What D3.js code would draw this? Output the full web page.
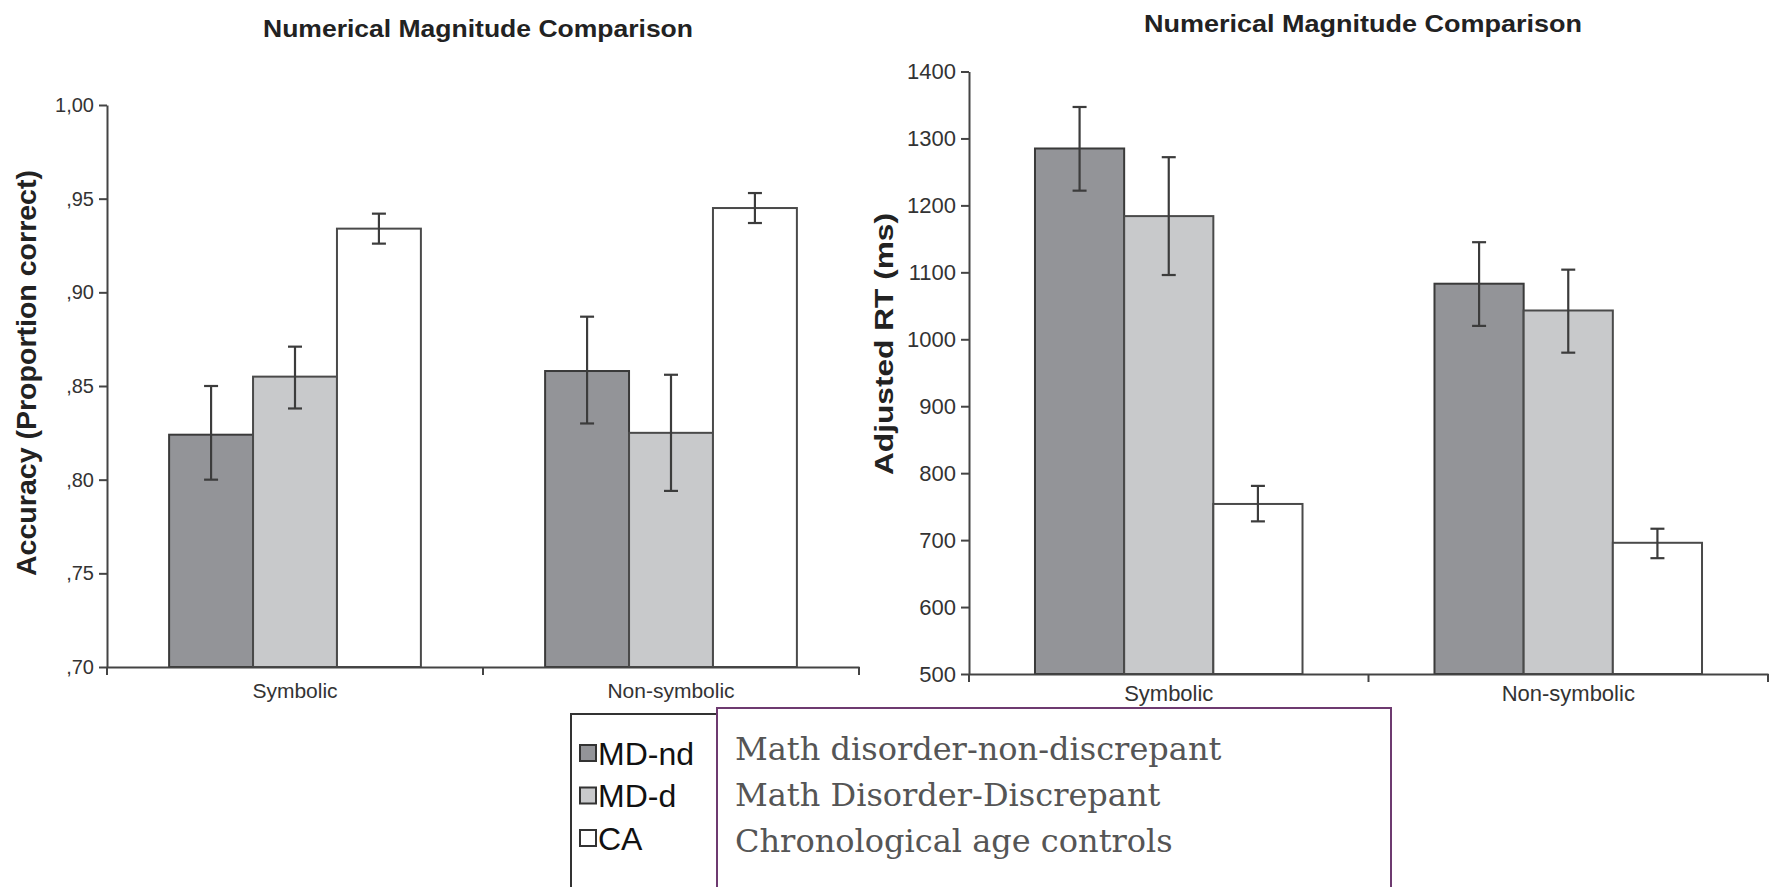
<!DOCTYPE html>
<html>
<head>
<meta charset="utf-8">
<script src="https://cdn.jsdelivr.net/npm/d3@7"></script>
<style>
  html, body { margin: 0; padding: 0; background: #fff; }
  svg { display: block; }
  text { font-family: "Liberation Sans", Arial, sans-serif; }
</style>
</head>
<body>
<svg id="chart" width="1776" height="887"></svg>
<script>
// ---------- data ----------
const categories = ["Symbolic", "Non-symbolic"];
const groups = ["MD-nd", "MD-d", "CA"];
const groupNames = ["Math disorder-non-discrepant", "Math Disorder-Discrepant", "Chronological age controls"];

// Accuracy (proportion correct): rows = categories, cols = groups
const accMean = [[0.824, 0.855, 0.934], [0.858, 0.825, 0.945]];
const accLow  = [[0.800, 0.838, 0.926], [0.830, 0.794, 0.937]];
const accHigh = [[0.850, 0.871, 0.942], [0.887, 0.856, 0.953]];
const accTicks = [0.70, 0.75, 0.80, 0.85, 0.90, 0.95, 1.00];

// Adjusted RT (ms)
const rtMean = [[1285, 1184, 754], [1083, 1043, 696]];
const rtLow  = [[1222, 1096, 728], [1020, 980, 673]];
const rtHigh = [[1347, 1272, 781], [1145, 1104, 717]];
const rtTicks = [500, 600, 700, 800, 900, 1000, 1100, 1200, 1300, 1400];

const titles = ["Numerical Magnitude Comparison", "Numerical Magnitude Comparison"];
const yLabels = ["Accuracy (Proportion correct)", "Adjusted RT (ms)"];

// ---------- styles ----------
const fills = { "MD-nd": "#939498", "MD-d": "#c8c9cb", "CA": "#ffffff" };

const svg = d3.select("#chart");
svg.append("rect").attr("width", 1776).attr("height", 887).attr("fill", "#fff");

function drawChart(cfg, means, lows, highs, ticks, fmt, title, ylab) {
  const g = svg.append("g");
  const y = d3.scaleLinear().domain([ticks[0], ticks[ticks.length - 1]]).range([cfg.yBot, cfg.yTop]);
  const xCat = d3.scaleBand().domain(categories).range([cfg.x0, cfg.x1]).padding(0);
  const xGrp = d3.scaleBand().domain(groups).range([0, xCat.bandwidth()]).paddingInner(0).paddingOuter(0.74);

  // bars
  categories.forEach((c, ci) => {
    groups.forEach((gr, gi) => {
      const v = means[ci][gi];
      g.append("rect")
        .attr("x", xCat(c) + xGrp(gr))
        .attr("y", y(v))
        .attr("width", xGrp.bandwidth())
        .attr("height", y(ticks[0]) - y(v))
        .attr("fill", fills[gr])
        .attr("stroke", gi === 0 ? "#3a3a3a" : "#4a4a4a")
        .attr("stroke-width", 2);
    });
  });

  // error bars
  categories.forEach((c, ci) => {
    groups.forEach((gr, gi) => {
      const cx = xCat(c) + xGrp(gr) + xGrp.bandwidth() / 2;
      const lo = y(lows[ci][gi]), hi = y(highs[ci][gi]);
      const col = "#3c3c3c";
      g.append("line").attr("x1", cx).attr("x2", cx).attr("y1", lo).attr("y2", hi)
        .attr("stroke", col).attr("stroke-width", 2.2);
      [lo, hi].forEach(yy => g.append("line").attr("x1", cx - 7).attr("x2", cx + 7)
        .attr("y1", yy).attr("y2", yy).attr("stroke", col).attr("stroke-width", 2.2));
    });
  });

  // y axis
  const ya = g.append("g").attr("transform", `translate(${cfg.x0},0)`)
    .call(d3.axisLeft(y).tickValues(ticks).tickFormat(fmt).tickSize(8).tickSizeOuter(0).tickPadding(5));
  ya.select(".domain").attr("stroke", "#444").attr("stroke-width", 2);
  ya.selectAll(".tick line").attr("stroke", "#444").attr("stroke-width", 2);
  ya.selectAll(".tick text").attr("fill", "#333").style("font-size", cfg.tickFont + "px");

  // x axis
  const xa = g.append("g").attr("transform", `translate(0,${cfg.yBot})`)
    .call(d3.axisBottom(xCat).tickSize(0).tickSizeOuter(0).tickPadding(cfg.catPad));
  xa.select(".domain").attr("stroke", "#444").attr("stroke-width", 2);
  xa.selectAll(".tick text").attr("fill", "#333").style("font-size", cfg.catFont + "px");
  const bounds = [cfg.x0].concat(categories.map(c => xCat(c) + xCat.bandwidth()));
  bounds.forEach(bx => g.append("line").attr("x1", bx).attr("x2", bx)
    .attr("y1", cfg.yBot).attr("y2", cfg.yBot + 8).attr("stroke", "#444").attr("stroke-width", 2));

  // title
  g.append("text").attr("x", cfg.titleX).attr("y", cfg.titleY).attr("text-anchor", "middle")
    .attr("fill", "#222").style("font-weight", "bold").style("font-size", cfg.titleFont + "px")
    .attr("textLength", cfg.titleLen).attr("lengthAdjust", "spacingAndGlyphs")
    .text(title);

  // y label
  g.append("text").attr("transform", `translate(${cfg.ylabX},${cfg.ylabY}) rotate(-90)`)
    .attr("text-anchor", "middle").attr("dy", "0.35em")
    .attr("fill", "#222").style("font-weight", "bold").style("font-size", cfg.ylabFont + "px")
    .attr("textLength", cfg.ylabLen).attr("lengthAdjust", "spacingAndGlyphs")
    .text(ylab);
}

const accFmt = v => d3.format(".2f")(v).replace(/^0\./, ",").replace(".", ",");
drawChart({ x0: 107, x1: 859, yTop: 105, yBot: 667, tickFont: 20, catFont: 21, catPad: 16,
            titleX: 478, titleY: 37, titleFont: 24, titleLen: 430,
            ylabX: 27, ylabY: 373, ylabFont: 27, ylabLen: 406 },
  accMean, accLow, accHigh, accTicks, accFmt, titles[0], yLabels[0]);

drawChart({ x0: 969, x1: 1768, yTop: 71.5, yBot: 674, tickFont: 22, catFont: 22, catPad: 11,
            titleX: 1363, titleY: 32, titleFont: 24, titleLen: 438,
            ylabX: 884, ylabY: 344, ylabFont: 25, ylabLen: 262 },
  rtMean, rtLow, rtHigh, rtTicks, d3.format("d"), titles[1], yLabels[1]);

// ---------- legend ----------
const lg = svg.append("g");
lg.append("rect").attr("x", 571).attr("y", 714).attr("width", 160).attr("height", 200)
  .attr("fill", "#fff").attr("stroke", "#333").attr("stroke-width", 2);
const legY = d3.scalePoint().domain(groups).range([753, 838]);
groups.forEach(gr => {
  lg.append("rect").attr("x", 580).attr("y", legY(gr) - 8).attr("width", 16).attr("height", 16)
    .attr("fill", fills[gr]).attr("stroke", "#333").attr("stroke-width", 2);
  lg.append("text").attr("x", 598).attr("y", legY(gr)).attr("dy", "0.36em")
    .attr("fill", "#111").style("font-size", "32px").text(gr);
});

// purple description box
const pb = svg.append("g");
pb.append("rect").attr("x", 717).attr("y", 708).attr("width", 674).attr("height", 200)
  .attr("fill", "#fff").attr("stroke", "#6e3a70").attr("stroke-width", 2);
const descY = d3.scalePoint().domain(groups).range([748, 840]);
groups.forEach((gr, i) => {
  pb.append("text").attr("x", 735).attr("y", descY(gr)).attr("dy", "0.36em")
    .attr("fill", "#555").style("font-family", "'DejaVu Serif', serif")
    .style("font-size", "32px").text(groupNames[i]);
});
</script>
</body>
</html>
